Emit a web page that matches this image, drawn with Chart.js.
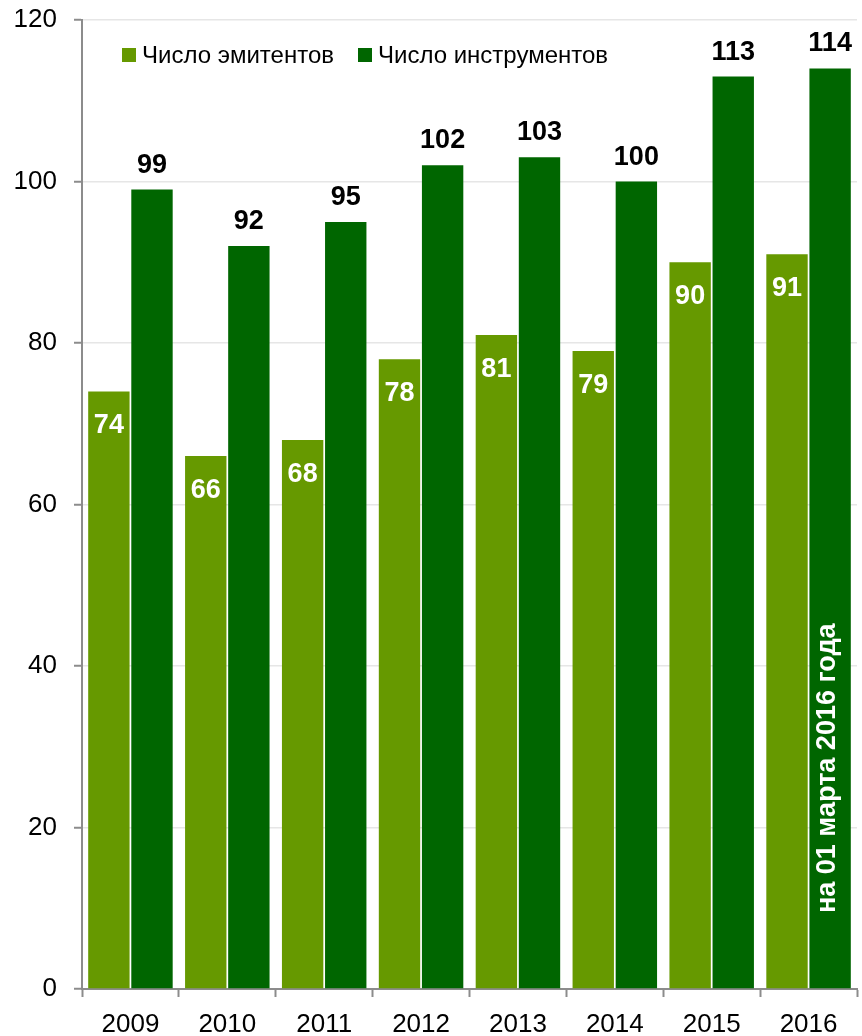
<!DOCTYPE html>
<html>
<head>
<meta charset="utf-8">
<script src="https://cdn.jsdelivr.net/npm/chart.js@4.4.0/dist/chart.umd.min.js"></script>
<style>
  html, body { margin: 0; padding: 0; background: #fff; }
  #wrap { width: 862px; height: 1036px; }
</style>
</head>
<body>
<div id="wrap"><canvas id="chart"></canvas></div>
<script>
const years = ['2009', '2010', '2011', '2012', '2013', '2014', '2015', '2016'];
const issuers = [74, 66, 68, 78, 81, 79, 90, 91];
const instruments = [99, 92, 95, 102, 103, 100, 113, 114];
const seriesNames = ['Число эмитентов', 'Число инструментов'];
const noteText = 'на 01 марта 2016 года';

const lightGreen = '#669900';
const darkGreen = '#006600';
const fontFamily = '"Liberation Sans", Arial, sans-serif';

// value labels, legend and the rotated note
const labelsPlugin = {
    id: 'labels',
    afterDatasetsDraw(chart) {
        const ctx = chart.ctx;
        ctx.save();
        ctx.textAlign = 'center';
        ctx.font = 'bold 27px ' + fontFamily;

        chart.getDatasetMeta(0).data.forEach((bar, i) => {
            ctx.fillStyle = '#fff';
            ctx.textBaseline = 'top';
            ctx.fillText(issuers[i], bar.x, bar.y + 21);
        });
        chart.getDatasetMeta(1).data.forEach((bar, i) => {
            ctx.fillStyle = '#000';
            ctx.textBaseline = 'alphabetic';
            ctx.fillText(instruments[i], bar.x, bar.y - 17);
        });

        // note on the last dark bar
        const last = chart.getDatasetMeta(1).data[years.length - 1];
        ctx.translate(last.x + 5, chart.scales.y.bottom - 76);
        ctx.rotate(-Math.PI / 2);
        ctx.textAlign = 'left';
        ctx.font = 'bold 27px ' + fontFamily;
        ctx.fillStyle = '#fff';
        ctx.fillText(noteText, 0, 0);
        ctx.restore();

        // legend
        ctx.save();
        ctx.font = '24px ' + fontFamily;
        ctx.textBaseline = 'middle';
        ctx.textAlign = 'left';
        const items = [
            { x: 122, color: lightGreen, text: seriesNames[0] },
            { x: 358, color: darkGreen, text: seriesNames[1] }
        ];
        items.forEach(it => {
            ctx.fillStyle = it.color;
            ctx.fillRect(it.x, 48, 14, 14);
            ctx.fillStyle = '#000';
            ctx.fillText(it.text, it.x + 20, 56);
        });
        ctx.restore();
    }
};

new Chart(document.getElementById('chart'), {
    type: 'bar',
    data: {
        labels: years,
        datasets: [
            {
                label: seriesNames[0],
                data: issuers,
                backgroundColor: lightGreen,
                categoryPercentage: 0.89,
                barPercentage: 0.96
            },
            {
                label: seriesNames[1],
                data: instruments,
                backgroundColor: darkGreen,
                categoryPercentage: 0.89,
                barPercentage: 0.96
            }
        ]
    },
    options: {
        responsive: true,
        maintainAspectRatio: false,
        animation: false,
        layout: {
            padding: { top: 20, right: 5, left: 0, bottom: 0 }
        },
        plugins: {
            legend: { display: false },
            tooltip: { enabled: false }
        },
        scales: {
            x: {
                grid: {
                    drawOnChartArea: false,
                    drawTicks: true,
                    tickLength: 8,
                    tickColor: '#8c8c8c',
                    tickWidth: 2
                },
                border: { color: '#8c8c8c', width: 2 },
                ticks: {
                    color: '#000',
                    padding: 12,
                    font: { family: fontFamily, size: 26 }
                },
                afterFit(scale) { scale.height = 47; }
            },
            y: {
                min: 0,
                max: 120,
                ticks: {
                    stepSize: 20,
                    color: '#000',
                    padding: 17,
                    font: { family: fontFamily, size: 26 }
                },
                grid: {
                    color: '#e6e6e6',
                    lineWidth: 1.5,
                    tickLength: 8,
                    tickColor: '#8c8c8c',
                    tickWidth: 2
                },
                border: { color: '#8c8c8c', width: 2 },
                afterFit(scale) {
                    scale.width = 82;
                    scale.paddingTop = 0;
                    scale.paddingBottom = 0;
                }
            }
        }
    },
    plugins: [labelsPlugin]
});
</script>
</body>
</html>
